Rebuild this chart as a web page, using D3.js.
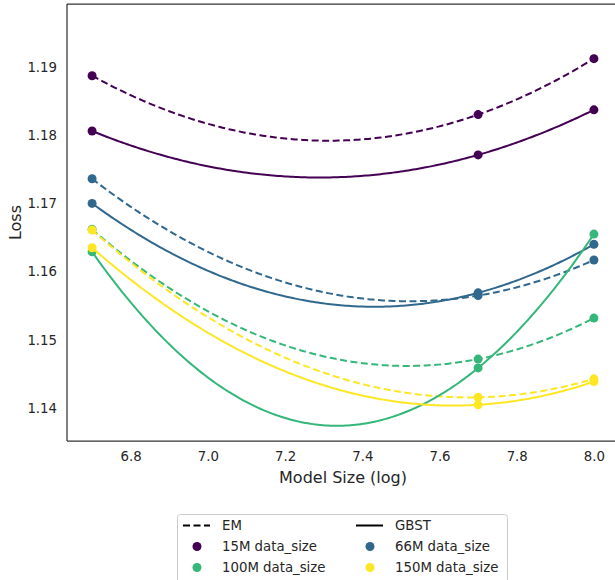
<!DOCTYPE html>
<html>
<head>
<meta charset="utf-8">
<script src="https://cdn.jsdelivr.net/npm/d3@7"></script>
<style>
  html, body { margin: 0; padding: 0; background: #fff; }
  svg { display: block; font-family: "DejaVu Sans", sans-serif; }
</style>
</head>
<body>
<svg id="chart" width="615" height="580"></svg>
<script>
// Model sizes (log10 of parameter count) at which each run was evaluated
const modelSizes = [6.7, 7.7, 8.0];

// Training data sizes, one series per size
const dataSizes = ["15M", "66M", "100M", "150M"];
const seriesColors = ["#440154", "#31688e", "#35b779", "#fde725"];

// Loss per data size, in the order of modelSizes
const emLoss = [
  [1.1887, 1.1830, 1.1912],
  [1.1736, 1.1565, 1.1617],
  [1.1662, 1.1472, 1.1532],
  [1.1661, 1.1416, 1.1443]
];
const gbstLoss = [
  [1.1806, 1.1771, 1.1837],
  [1.1700, 1.1569, 1.1640],
  [1.1629, 1.1459, 1.1655],
  [1.1635, 1.1405, 1.1439]
];

const xTicks = [6.8, 7.0, 7.2, 7.4, 7.6, 7.8, 8.0];
const yTicks = [1.14, 1.15, 1.16, 1.17, 1.18, 1.19];

const svg = d3.select("#chart");
const textColor = "#262626";

const x = d3.scaleLinear().domain([6.635, 8.065]).range([67, 619]);
const y = d3.scaleLinear().domain([1.1352, 1.1992]).range([441, 4]);

// Least-squares quadratic fit (degree 2 polynomial) through the points
function quadFit(xs, ys) {
  const n = xs.length;
  let S = [0, 0, 0, 0, 0], T = [0, 0, 0];
  for (let i = 0; i < n; i++) {
    let p = 1;
    for (let k = 0; k < 5; k++) { S[k] += p; if (k < 3) T[k] += p * ys[i]; p *= xs[i]; }
  }
  const A = [[S[0], S[1], S[2], T[0]], [S[1], S[2], S[3], T[1]], [S[2], S[3], S[4], T[2]]];
  for (let c = 0; c < 3; c++) {
    for (let r = c + 1; r < 3; r++) {
      const f = A[r][c] / A[c][c];
      for (let k = c; k < 4; k++) A[r][k] -= f * A[c][k];
    }
  }
  const coef = [0, 0, 0];
  for (let r = 2; r >= 0; r--) {
    let s = A[r][3];
    for (let k = r + 1; k < 3; k++) s -= A[r][k] * coef[k];
    coef[r] = s / A[r][r];
  }
  return v => coef[0] + coef[1] * v + coef[2] * v * v;
}

svg.append("defs").append("clipPath").attr("id", "plotClip")
  .append("rect").attr("x", 67).attr("y", 4).attr("width", 552).attr("height", 437);

const plot = svg.append("g").attr("clip-path", "url(#plotClip)");
const line = d3.line().x(d => x(d[0])).y(d => y(d[1]));
const xs = d3.range(0, 201).map(i => modelSizes[0] + (modelSizes[2] - modelSizes[0]) * i / 200);

function drawSeries(values, dashed) {
  values.forEach((vals, i) => {
    const f = quadFit(modelSizes, vals);
    plot.append("path")
      .datum(xs.map(v => [v, f(v)]))
      .attr("d", line)
      .attr("fill", "none")
      .attr("stroke", seriesColors[i])
      .attr("stroke-width", 2)
      .attr("stroke-dasharray", dashed ? "7,3.5" : null);
    plot.selectAll(null)
      .data(modelSizes.map((m, j) => [m, vals[j]]))
      .enter().append("circle")
      .attr("cx", d => x(d[0]))
      .attr("cy", d => y(d[1]))
      .attr("r", 4.5)
      .attr("fill", seriesColors[i]);
  });
}
drawSeries(emLoss, true);
drawSeries(gbstLoss, false);

// Frame
const spine = svg.append("g").attr("stroke", "#333").attr("stroke-width", 1.25).attr("fill", "none");
spine.append("line").attr("x1", 67).attr("x2", 67).attr("y1", 4).attr("y2", 441);
spine.append("line").attr("x1", 67).attr("x2", 619).attr("y1", 441).attr("y2", 441);
spine.append("line").attr("x1", 67).attr("x2", 619).attr("y1", 4).attr("y2", 4);
spine.append("line").attr("x1", 619).attr("x2", 619).attr("y1", 4).attr("y2", 441);

// Axes: labels only, no tick marks
const xAxis = svg.append("g").attr("transform", "translate(0,441)")
  .call(d3.axisBottom(x).tickValues(xTicks).tickFormat(d3.format(".1f")).tickSize(0).tickPadding(11));
const yAxis = svg.append("g").attr("transform", "translate(67,0)")
  .call(d3.axisLeft(y).tickValues(yTicks).tickFormat(d3.format(".2f")).tickSize(0).tickPadding(10));
[xAxis, yAxis].forEach(g => {
  g.select(".domain").remove();
  g.selectAll("text").attr("fill", textColor).style("font-size", "13.3px").style("font-family", "DejaVu Sans");
});

svg.append("text")
  .attr("x", x((x.domain()[0] + x.domain()[1]) / 2)).attr("y", 483)
  .attr("text-anchor", "middle").attr("fill", textColor)
  .style("font-size", "16px").text("Model Size (log)");
svg.append("text")
  .attr("transform", "translate(21,222.5) rotate(-90)")
  .attr("text-anchor", "middle").attr("fill", textColor)
  .style("font-size", "16px").text("Loss");

// Legend
const legend = svg.append("g");
legend.append("rect")
  .attr("x", 177.5).attr("y", 514.5).attr("width", 330).attr("height", 75)
  .attr("rx", 3).attr("fill", "#fff").attr("fill-opacity", 0.8)
  .attr("stroke", "#cccccc").attr("stroke-width", 1);

const legendItems = [
  { type: "line", dashed: true, color: "#000", label: "EM" },
  { type: "line", dashed: false, color: "#000", label: "GBST" },
  { type: "dot", color: seriesColors[0], label: dataSizes[0] + " data_size" },
  { type: "dot", color: seriesColors[1], label: dataSizes[1] + " data_size" },
  { type: "dot", color: seriesColors[2], label: dataSizes[2] + " data_size" },
  { type: "dot", color: seriesColors[3], label: dataSizes[3] + " data_size" }
];
const colX = [183, 356];
const rowY = [525.5, 546.5, 567.5];
legendItems.forEach((it, k) => {
  const cx = colX[k % 2], cy = rowY[Math.floor(k / 2)];
  const g = legend.append("g");
  if (it.type === "line") {
    g.append("line").attr("x1", cx).attr("x2", cx + 27).attr("y1", cy).attr("y2", cy)
      .attr("stroke", it.color).attr("stroke-width", 2)
      .attr("stroke-dasharray", it.dashed ? "7,3.5" : null);
  } else {
    g.append("circle").attr("cx", cx + 14).attr("cy", cy).attr("r", 4.5).attr("fill", it.color);
  }
  g.append("text").attr("x", cx + 39).attr("y", cy).attr("dy", "0.36em")
    .attr("fill", textColor).style("font-size", "13.3px").text(it.label);
});
</script>
</body>
</html>
